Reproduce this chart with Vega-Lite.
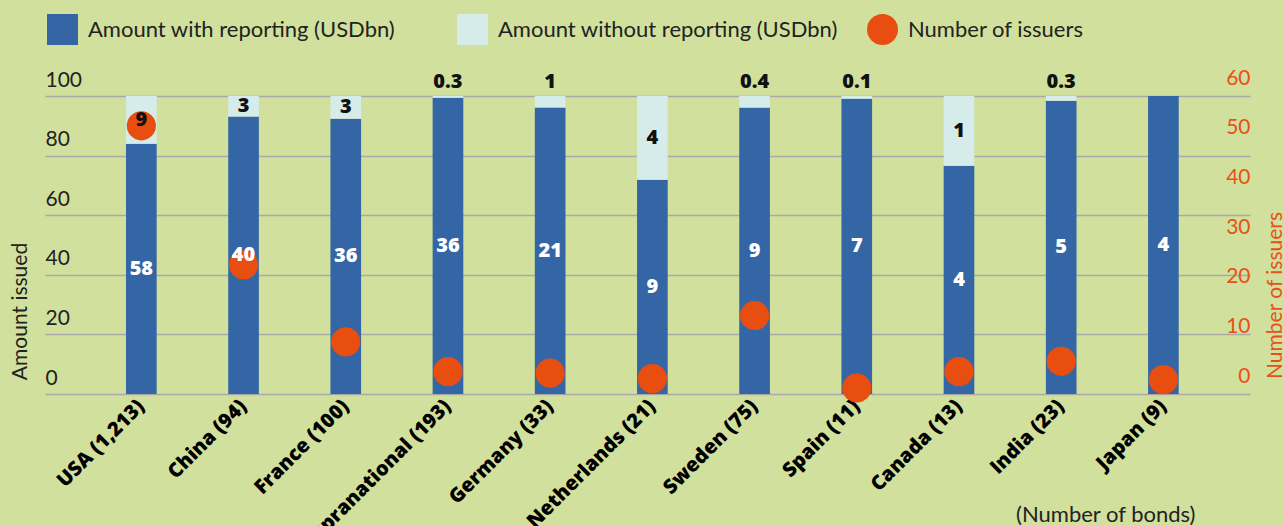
{
  "$schema": "https://vega.github.io/schema/vega-lite/v6.json",
  "width": 1205,
  "height": 298,
  "autosize": {"type": "none"},
  "padding": {"left": 45, "top": 96, "right": 34, "bottom": 132},
  "background": "#d1e09c",
  "config": {"view": {"stroke": null}, "font": "Lato"},
  "data": {
    "values": [
      {"country": "USA (1,213)", "with_pct": 84.0, "with_label": "58", "without_label": "9", "issuers": 54},
      {"country": "China (94)", "with_pct": 93.1, "with_label": "40", "without_label": "3", "issuers": 26},
      {"country": "France (100)", "with_pct": 92.4, "with_label": "36", "without_label": "3", "issuers": 10.5},
      {"country": "Supranational (193)", "with_pct": 99.4, "with_label": "36", "without_label": "0.3", "issuers": 4.5},
      {"country": "Germany (33)", "with_pct": 96.1, "with_label": "21", "without_label": "1", "issuers": 4.2},
      {"country": "Netherlands (21)", "with_pct": 71.9, "with_label": "9", "without_label": "4", "issuers": 3.1},
      {"country": "Sweden (75)", "with_pct": 96.1, "with_label": "9", "without_label": "0.4", "issuers": 15.8},
      {"country": "Spain (11)", "with_pct": 99.1, "with_label": "7", "without_label": "0.1", "issuers": 1.2},
      {"country": "Canada (13)", "with_pct": 76.6, "with_label": "4", "without_label": "1", "issuers": 4.5},
      {"country": "India (23)", "with_pct": 98.4, "with_label": "5", "without_label": "0.3", "issuers": 6.6},
      {"country": "Japan (9)", "with_pct": 100, "with_label": "4", "without_label": "", "issuers": 2.9}
    ]
  },
  "resolve": {"scale": {"y": "independent"}},
  "encoding": {
    "x": {
      "field": "country",
      "type": "nominal",
      "sort": null,
      "scale": {"paddingInner": 0.7, "paddingOuter": 0.745, "align": 0.532},
      "axis": {
        "title": "(Number of bonds)",
        "titleFont": "Lato",
        "titleFontSize": 22,
        "titleFontWeight": "normal",
        "titleColor": "#222222",
        "titleX": 1150,
        "titleY": 127,
        "titleAlign": "right",
        "titleBaseline": "alphabetic",
        "labelAngle": -45,
        "labelAlign": "right",
        "labelBaseline": "middle",
        "labelPadding": 9,
        "labelFont": "Open Sans",
        "labelFontSize": 20,
        "labelFontWeight": 800,
        "labelColor": "#000000",
        "labelLimit": 400,
        "domain": false,
        "ticks": false,
        "tickSize": 0,
        "grid": false
      }
    }
  },
  "layer": [
    {
      "mark": {"type": "bar"},
      "encoding": {
        "y": {
          "field": "with_pct",
          "type": "quantitative",
          "scale": {"domain": [0, 100], "nice": false},
          "axis": {
            "title": "Amount issued",
            "titleFontSize": 21,
            "titleFontWeight": "normal",
            "titleColor": "#222222",
            "titleX": -25,
            "titleY": 215,
            "titleAngle": 270,
            "titleAlign": "center",
            "titleBaseline": "middle",
            "values": [0, 20, 40, 60, 80, 100],
            "grid": true,
            "gridColor": "#a9a9a9",
            "gridWidth": 1.5,
            "domain": false,
            "ticks": false,
            "tickSize": 0,
            "labelAlign": "left",
            "labelBaseline": "alphabetic",
            "labelOffset": -10,
            "labelPadding": 0,
            "labelFontSize": 21,
            "labelColor": "#222222"
          }
        },
        "color": {
          "datum": "Amount with reporting (USDbn)",
          "scale": {
            "domain": ["Amount with reporting (USDbn)", "Amount without reporting (USDbn)", "Number of issuers"],
            "range": ["#3466a6", "#d6ecea", "#e84e10"]
          },
          "legend": {
            "title": null,
            "orient": "none",
            "legendX": 2,
            "legendY": -82,
            "direction": "horizontal",
            "columns": 3,
            "gridAlign": "all",
            "columnPadding": 29,
            "padding": 0,
            "symbolSize": 961,
            "symbolType": "square",
            "symbolStrokeWidth": 0,
            "symbolOpacity": 1,
            "labelFont": "Lato",
            "labelFontSize": 22,
            "labelColor": "#222222",
            "labelOffset": 10,
            "labelLimit": 400,
            "encode": {
              "symbols": {
                "update": {
                  "shape": {"signal": "datum.value === 'Number of issuers' ? 'circle' : 'square'"}
                }
              }
            }
          }
        }
      }
    },
    {
      "mark": {"type": "bar"},
      "encoding": {
        "y": {
          "field": "with_pct",
          "type": "quantitative",
          "scale": {"domain": [0, 100], "nice": false},
          "axis": null
        },
        "y2": {"datum": 100},
        "color": {"datum": "Amount without reporting (USDbn)"}
      }
    },
    {
      "mark": {"type": "circle", "size": 850, "opacity": 1},
      "encoding": {
        "y": {
          "field": "issuers",
          "type": "quantitative",
          "scale": {"domain": [0, 60], "nice": false},
          "axis": {
            "orient": "right",
            "title": "Number of issuers",
            "titleColor": "#e8501a",
            "titleFontSize": 21,
            "titleFontWeight": "normal",
            "titleAngle": 270,
            "titleX": 25,
            "titleY": 199,
            "titleAlign": "center",
            "titleBaseline": "middle",
            "values": [0, 10, 20, 30, 40, 50, 60],
            "grid": false,
            "domain": false,
            "ticks": false,
            "tickSize": 0,
            "labelAlign": "right",
            "labelBaseline": "alphabetic",
            "labelOffset": -12,
            "labelPadding": 0,
            "labelFontSize": 21,
            "labelColor": "#e8501a"
          }
        },
        "color": {"datum": "Number of issuers"}
      }
    },
    {
      "mark": {"type": "text", "color": "#ffffff", "font": "Open Sans", "fontWeight": 800, "fontSize": 20, "baseline": "middle"},
      "encoding": {
        "y": {
          "field": "with_pct",
          "type": "quantitative",
          "scale": {"domain": [0, 200], "nice": false},
          "axis": null
        },
        "text": {"field": "with_label"}
      }
    },
    {
      "transform": [{"filter": {"field": "with_pct", "lt": 95}}],
      "mark": {"type": "text", "color": "#111111", "font": "Open Sans", "fontWeight": 800, "fontSize": 20, "baseline": "middle"},
      "encoding": {
        "y": {
          "field": "with_pct",
          "type": "quantitative",
          "scale": {"domain": [-100, 100], "nice": false, "zero": false},
          "axis": null
        },
        "text": {"field": "without_label"}
      }
    },
    {
      "transform": [{"filter": {"and": [{"field": "with_pct", "gte": 95}, {"field": "with_pct", "lt": 100}]}}],
      "mark": {"type": "text", "color": "#111111", "font": "Open Sans", "fontWeight": 800, "fontSize": 20, "baseline": "middle", "dy": -14},
      "encoding": {
        "y": {
          "datum": 100,
          "type": "quantitative",
          "scale": {"domain": [0, 100], "nice": false},
          "axis": null
        },
        "text": {"field": "without_label"}
      }
    }
  ]
}
